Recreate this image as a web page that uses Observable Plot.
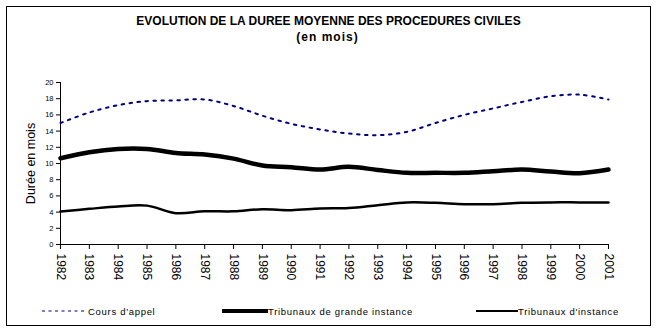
<!DOCTYPE html>
<html><head><meta charset="utf-8">
<script src="https://cdn.jsdelivr.net/npm/d3@7"></script>
<script src="https://cdn.jsdelivr.net/npm/@observablehq/plot@0.6"></script>
<style>
body{margin:0;background:#fff;font-family:"Liberation Sans",Arial,sans-serif;color:#000}
#wrap{position:relative;width:657px;height:329px;overflow:hidden;background:#fff}
#chart{position:absolute;left:0;top:0}
#frame{position:absolute;left:6px;top:6px;width:643px;height:318px;border:1px solid #000;pointer-events:none}
.ttl{position:absolute;left:0;width:657px;text-align:center;font-weight:bold;font-size:12px;line-height:12px;white-space:nowrap}
#legend{position:absolute;left:0;top:295px}
</style></head>
<body>
<div id="wrap">
  <div id="chart"></div>
  <div class="ttl" style="top:15px">EVOLUTION DE LA DUREE MOYENNE DES PROCEDURES CIVILES</div>
  <div class="ttl" style="top:31px;letter-spacing:1px;left:-1px">(en mois)</div>
  <svg id="legend" width="657" height="30"></svg>
  <div id="frame"></div>
</div>
<script>
const years = [1982,1983,1984,1985,1986,1987,1988,1989,1990,1991,1992,1993,1994,1995,1996,1997,1998,1999,2000,2001];
const coursAppel = [15.0,16.3,17.2,17.7,17.8,17.9,17.1,15.9,14.9,14.2,13.7,13.5,13.9,15.0,16.0,16.8,17.6,18.3,18.5,17.9];
const tgi = [10.65,11.4,11.8,11.8,11.3,11.1,10.6,9.75,9.55,9.25,9.6,9.2,8.85,8.85,8.85,9.05,9.25,9.0,8.8,9.25];
const ti = [4.07,4.4,4.7,4.8,3.87,4.1,4.1,4.36,4.24,4.44,4.5,4.85,5.19,5.15,4.98,4.98,5.15,5.2,5.2,5.2];
const yTicks = [0,2,4,6,8,10,12,14,16,18,20];
const seriesNames = ["Cours d'appel","Tribunaux de grande instance","Tribunaux d'instance"];
const yLabel = "Durée en mois";

const rows = (vals) => years.map((y,i) => ({year:y, value:vals[i]}));

const plot = Plot.plot({
  width: 657, height: 290,
  marginTop: 82, marginBottom: 46, marginLeft: 60, marginRight: 49,
  style: {background: "transparent", fontFamily: "Liberation Sans, Arial, sans-serif", color: "#000"},
  x: {domain: [1982, 2001]},
  y: {domain: [0, 20]},
  marks: [
    Plot.ruleX([1982], {stroke: "#000", strokeWidth: 1}),
    Plot.ruleY([0], {stroke: "#000", strokeWidth: 1}),
    Plot.axisY({ticks: yTicks, tickSize: 4, tickPadding: 3, fontSize: 7.5, label: null}),
    Plot.axisX({ticks: years, tickFormat: d => String(d), tickSize: 5, tickPadding: 4, tickRotate: 90, fontSize: 12, label: null}),
    Plot.text([yLabel], {frameAnchor: "left", textAnchor: "middle", rotate: -90, dx: -30, fontSize: 12.5}),
    Plot.line(rows(coursAppel), {x: "year", y: "value", curve: "catmull-rom", stroke: "#000080", strokeWidth: 2, strokeDasharray: "2.5,5.5"}),
    Plot.line(rows(tgi), {x: "year", y: "value", curve: "catmull-rom", stroke: "#000", strokeWidth: 4.5}),
    Plot.line(rows(ti), {x: "year", y: "value", curve: "catmull-rom", stroke: "#000", strokeWidth: 2.5})
  ]
});
document.getElementById("chart").appendChild(plot);

// legend
const lg = d3.select("#legend");
const items = [
  {x1: 42, x2: 87, tx: 88, dash: "3,3.5", w: 1.2, c: "#000080"},
  {x1: 222, x2: 268, tx: 268, dash: null, w: 4, c: "#000"},
  {x1: 476, x2: 518, tx: 518, dash: null, w: 2, c: "#000"}
];
items.forEach((it, i) => {
  lg.append("line").attr("x1", it.x1).attr("x2", it.x2).attr("y1", 16).attr("y2", 16)
    .attr("stroke", it.c).attr("stroke-width", it.w).attr("stroke-dasharray", it.dash);
  lg.append("text").attr("x", it.tx).attr("y", 19.5).text(seriesNames[i])
    .attr("font-size", 9.5).attr("letter-spacing", "0.7px")
    .attr("font-family", "Liberation Sans, Arial, sans-serif");
});
</script>
</body></html>
